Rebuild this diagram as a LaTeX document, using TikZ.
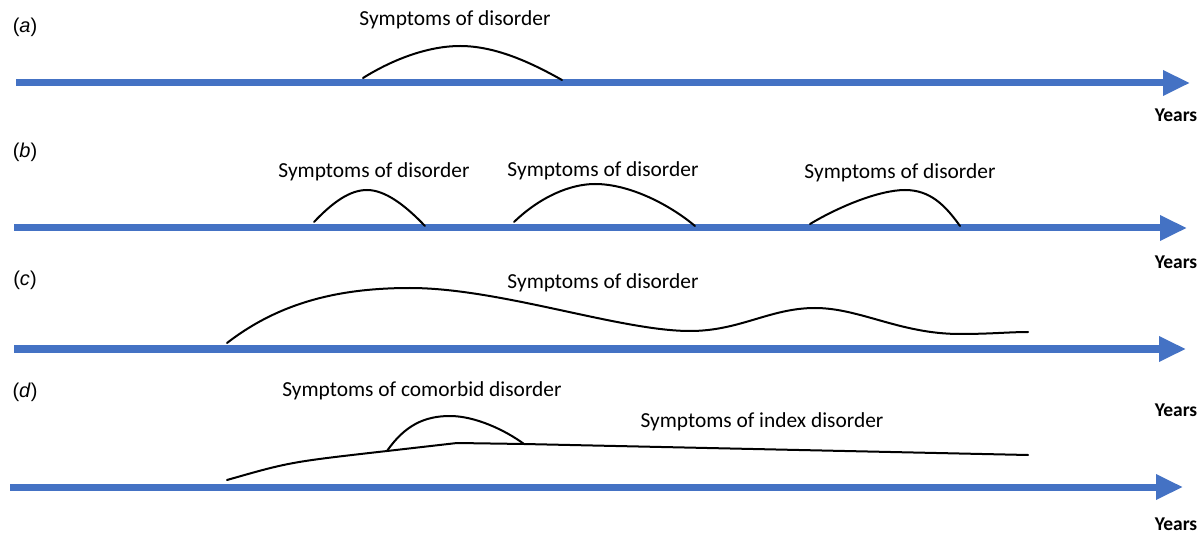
\documentclass[tikz,border=0pt]{standalone}
\usepackage{fontspec}
\setmainfont{Carlito}
\newfontfamily\arialf{Liberation Sans}
\usetikzlibrary{arrows.meta}
\definecolor{axisblue}{HTML}{4472C4}
\tikzset{
  axisline/.style={draw=axisblue, line width=7pt, -{Triangle[width=24pt,length=27pt]}},
  curveline/.style={draw=black, line width=2pt, line cap=round, line join=round},
  symtext/.style={font=\fontsize{21.4}{24}\selectfont, inner sep=0pt},
  yearstext/.style={font=\fontsize{19.5}{22}\selectfont\bfseries, inner sep=0pt},
  paneltext/.style={font=\arialf\fontsize{20}{24}\selectfont, inner sep=0pt}
}
\begin{document}
\begin{tikzpicture}[x=1pt,y=-1pt]
\useasboundingbox (0,0) rectangle (1204,534);
% panel labels
\node[paneltext] (la) at (25,27) {(\textit{a})};
\node[paneltext] (lb) at (25,152) {(\textit{b})};
\node[paneltext] (lc) at (25,280) {(\textit{c})};
\node[paneltext] (ld) at (25,392) {(\textit{d})};
% axes
\coordinate (a0) at (16,83);  \coordinate (a1) at (1190,83);
\coordinate (b0) at (14,228); \coordinate (b1) at (1187,228);
\coordinate (c0) at (14,349); \coordinate (c1) at (1186,349);
\coordinate (d0) at (10,487); \coordinate (d1) at (1183,487);
\draw[axisline] (a0) -- (a1);
\draw[axisline] (b0) -- (b1);
\draw[axisline] (c0) -- (c1);
\draw[axisline] (d0) -- (d1);
\node[yearstext] (ya) at (1176,115) {Years};
\node[yearstext] (yb) at (1176,262) {Years};
\node[yearstext] (yc) at (1176,410) {Years};
\node[yearstext] (yd) at (1176,524) {Years};
% (a)
\node[symtext] (ta) at (455,20) {Symptoms of disorder};
\draw[curveline] (363,78) .. controls (395,58) and (430,46) .. (460,46) .. controls (495,46) and (530,62) .. (562,80);
% (b)
\node[symtext] (tb1) at (374,172) {Symptoms of disorder};
\node[symtext] (tb2) at (603,171) {Symptoms of disorder};
\node[symtext] (tb3) at (900,173) {Symptoms of disorder};
\draw[curveline] (314,222) .. controls (333,202) and (350,190) .. (367,190) .. controls (385,190) and (405,205) .. (425,226);
\draw[curveline] (514,222) .. controls (540,197) and (570,184) .. (595,184) .. controls (630,184) and (670,205) .. (695,226);
\draw[curveline] (810,224) .. controls (840,206) and (880,190) .. (905,190) .. controls (930,190) and (945,205) .. (960,226);
% (c)
\node[symtext] (tc) at (603,283) {Symptoms of disorder};
\draw[curveline] (227,343) .. controls (280,302) and (340,288) .. (410,288) .. controls (500,288) and (620,331) .. (690,331) .. controls (740,331) and (770,308) .. (815,308) .. controls (860,308) and (900,334) .. (960,334) .. controls (990,334) and (1010,332) .. (1028,332);
% (d)
\node[symtext] (td1) at (422,391) {Symptoms of comorbid disorder};
\node[symtext] (td2) at (762,422) {Symptoms of index disorder};
\draw[curveline] (227,480) .. controls (290,462) .. (387,451) -- (457,443) -- (524,444) -- (1028,455);
\draw[curveline] (387,451) .. controls (405,425) and (425,416) .. (450,416) .. controls (475,416) and (505,430) .. (524,444);
\end{tikzpicture}
\end{document}
